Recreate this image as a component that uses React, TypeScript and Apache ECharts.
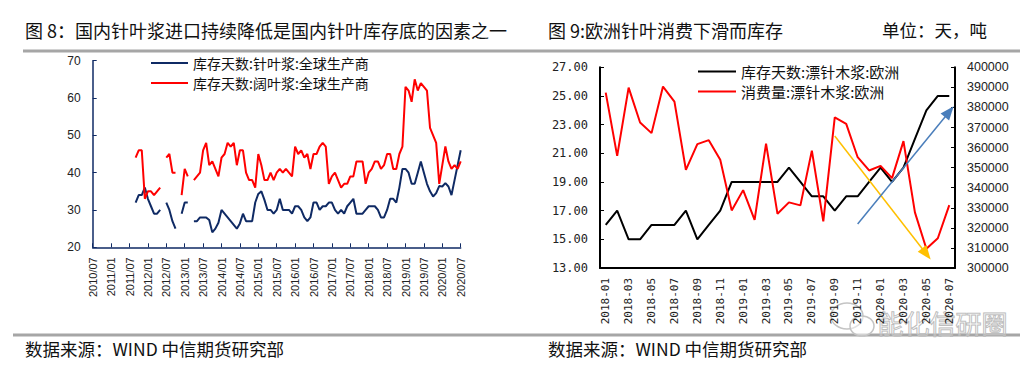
import React, { useEffect, useRef } from 'react';
import * as echarts from 'echarts';

// ---------- Left chart (图8) ----------
const leftMonths: string[] = [];
{
  let y = 2010;
  let m = 7;
  while (y < 2020 || (y === 2020 && m <= 7)) {
    leftMonths.push(`${y}/${String(m).padStart(2, '0')}`);
    m++;
    if (m > 12) { m = 1; y++; }
  }
}
const leftStart = '2011/09';
// 库存天数:针叶浆:全球生产商 (monthly from 2011/09, null = gap)
const softwoodDays: (number | null)[] = [
  32, 34, 34, 36, 33, 31, 29, 29, 30, null,
  32, 30, 27, 25, null,
  29, 32, 32, null,
  27, 27, 28, 28, 28, 27.3, 24, 25, 26.6, 30,
  29, 28, 27, 26, 25, 26.4, 29, 27, 27, 27,
  32, 34.3, 35, 32.7, 30, 30, 29, 30, 33, 30,
  30, 30, 29, 31, 31, 30, 28, 27, 28, 32,
  32, 30, 31, 31, 32, 32, 30, 29, 30, 29,
  31, 32, 33, 29, 29, 29, 30, 31, 31, 31,
  30, 28, 28, 30, 33, 33, 32, 36,
  41, 41, 40, 37, 37, 40, 43, 40, 37, 35,
  33.6, 34.5, 36.4, 36.3, 37.2, 36.3, 34, 38, 42, 46,
];
// 库存天数:阔叶浆:全球生产商
const hardwoodDays: (number | null)[] = [
  44, 46, 46, 33, 35, 35, 34, 35, 36, null,
  44, 45, 40, 40, null,
  34, 41, 39, null,
  38, 39, 40, 46, 48, 42, 43, 41, 39, 44,
  45, 48, 47, 48, 42, 46, 46, 40, 38, 38,
  36, 45, 42, 38, 38, 40, 38, 40, 41, 40,
  41, 40, 39, 47, 45, 46, 44, 45, 41, 45,
  45, 47, 48, 47, 37, 39, 40, 38, 36, 37,
  37, 39, 39, 43, 43, 43, 37, 40, 41, 43,
  43, 41, 42, 45, 45, 41, 41, 45, 47, 63,
  62, 59, 65, 62, 64, 63, 62, 52, 50, 48,
  37, 42, 47, 43, 41, 42, 41, 43,
];
const leftYTicks = { min: 20, max: 70, interval: 10 };

// ---------- Right chart (图9) ----------
const rightMonths: string[] = [];
{
  let y = 2018;
  let m = 1;
  while (y < 2020 || (y === 2020 && m <= 7)) {
    rightMonths.push(`${y}-${String(m).padStart(2, '0')}`);
    m++;
    if (m > 12) { m = 1; y++; }
  }
}
// 库存天数:漂针木浆:欧洲
const euInventoryDays = [
  16, 17, 15, 15, 16, 16, 16, 17, 15, 16,
  17, 19, 19, 19, 19, 19, 20, 19, 18, 18,
  17, 18, 18, 19, 20, 19, 20, 22, 24, 25,
  25,
];
// 消费量:漂针木浆:欧洲
const euConsumption = [
  387400, 355900, 389900, 372500, 367200, 390400, 382900, 348900, 361700, 363700,
  353900, 328700, 338800, 324000, 362000, 327000, 332700, 331200, 358500, 323200,
  375000, 371800, 355200, 348600, 350900, 344800, 363200, 327700, 309600, 314800,
  331300,
];
// Annotation arrows (data coordinates on the right-hand axis)
const yellowArrow = [['2019-09', 365800], ['2020-05', 307000]];
const blueArrow = [['2019-11', 321900], ['2020-07', 377900]];

const CJK = '"Noto Sans CJK SC", sans-serif';
const NAVY = '#0F2A64';

const pad = (start: string, arr: (number | null)[]) => {
  const s = leftMonths.indexOf(start);
  return leftMonths.map((_, i) => (i < s ? null : (arr[i - s] ?? null)));
};

export default function App() {
  const ref = useRef<HTMLDivElement>(null);
  useEffect(() => {
    if (!ref.current) return;
    const chart = echarts.init(ref.current, undefined, { renderer: 'svg' });
    const option: any = {
      animation: false,
      backgroundColor: '#ffffff',
      legend: [
        {
          orient: 'vertical',
          left: 151,
          top: 56,
          padding: 0,
          icon: 'rect',
          itemWidth: 37,
          itemHeight: 2,
          itemGap: 6,
          textStyle: { fontFamily: CJK, fontSize: 14, color: '#111' },
          data: ['库存天数:针叶浆:全球生产商', '库存天数:阔叶浆:全球生产商'],
        },
        {
          orient: 'vertical',
          left: 698,
          top: 64,
          padding: 0,
          icon: 'rect',
          itemWidth: 38,
          itemHeight: 2,
          itemGap: 5,
          textStyle: { fontFamily: CJK, fontSize: 15, color: '#111' },
          data: ['库存天数:漂针木浆:欧洲', '消费量:漂针木浆:欧洲'],
        },
      ],
      grid: [
        { left: 92.7, top: 60.7, width: 368, height: 186.6 },
        { left: 600, top: 67.3, width: 355, height: 200.7 },
      ],
      xAxis: [
        {
          type: 'category',
          gridIndex: 0,
          data: leftMonths,
          boundaryGap: false,
          axisLine: { lineStyle: { color: NAVY, width: 1.5 } },
          axisTick: { inside: true, interval: 5, length: 4, lineStyle: { color: NAVY } },
          axisLabel: {
            interval: 5, rotate: 90, fontSize: 11, color: '#222',
            fontFamily: '"Liberation Sans", Arial, sans-serif', margin: 10,
          },
          splitLine: { show: false },
        },
        {
          type: 'category',
          gridIndex: 1,
          data: rightMonths,
          boundaryGap: true,
          axisLine: { lineStyle: { color: '#000', width: 2 } },
          axisTick: { inside: false, interval: 1, length: 4, lineStyle: { color: '#000' } },
          axisLabel: {
            interval: 1, rotate: 90, fontSize: 11, color: '#222',
            fontFamily: '"DejaVu Sans Mono", monospace', margin: 10,
          },
          splitLine: { show: false },
        },
      ],
      yAxis: [
        {
          type: 'value',
          gridIndex: 0,
          min: leftYTicks.min,
          max: leftYTicks.max,
          interval: leftYTicks.interval,
          axisLine: { show: true, lineStyle: { color: NAVY, width: 1.5 } },
          axisTick: { show: true, inside: true, length: 4, lineStyle: { color: NAVY } },
          axisLabel: { fontSize: 12, color: '#222', fontFamily: '"Liberation Sans", Arial, sans-serif', margin: 12 },
          splitLine: { show: false },
        },
        {
          type: 'value',
          gridIndex: 1,
          min: 13,
          max: 27,
          interval: 2,
          axisLine: { show: true, lineStyle: { color: '#000', width: 2 } },
          axisTick: { show: true, inside: true, length: 4, lineStyle: { color: '#000' } },
          axisLabel: {
            fontSize: 12, color: '#222', fontFamily: '"DejaVu Sans Mono", monospace', margin: 12,
            formatter: (v: number) => v.toFixed(2),
          },
          splitLine: { show: false },
        },
        {
          type: 'value',
          gridIndex: 1,
          position: 'right',
          min: 300000,
          max: 400000,
          interval: 10000,
          axisLine: { show: true, lineStyle: { color: '#000', width: 2 } },
          axisTick: { show: true, inside: true, length: 4, lineStyle: { color: '#000' } },
          axisLabel: {
            fontSize: 12.5, color: '#222', fontFamily: '"Liberation Sans", Arial, sans-serif', margin: 12,
            formatter: (v: number) => String(v),
          },
          splitLine: { show: false },
        },
      ],
      series: [
        {
          name: '库存天数:针叶浆:全球生产商',
          type: 'line',
          xAxisIndex: 0,
          yAxisIndex: 0,
          data: pad(leftStart, softwoodDays),
          symbol: 'none',
          connectNulls: false,
          lineStyle: { color: NAVY, width: 2 },
          itemStyle: { color: NAVY },
        },
        {
          name: '库存天数:阔叶浆:全球生产商',
          type: 'line',
          xAxisIndex: 0,
          yAxisIndex: 0,
          data: pad(leftStart, hardwoodDays),
          symbol: 'none',
          connectNulls: false,
          lineStyle: { color: '#FF0000', width: 2 },
          itemStyle: { color: '#FF0000' },
        },
        {
          name: '库存天数:漂针木浆:欧洲',
          type: 'line',
          xAxisIndex: 1,
          yAxisIndex: 1,
          data: euInventoryDays,
          symbol: 'none',
          lineStyle: { color: '#000', width: 2 },
          itemStyle: { color: '#000' },
        },
        {
          name: '消费量:漂针木浆:欧洲',
          type: 'line',
          xAxisIndex: 1,
          yAxisIndex: 2,
          data: euConsumption,
          symbol: 'none',
          lineStyle: { color: '#FF0000', width: 2 },
          itemStyle: { color: '#FF0000' },
          markLine: {
            silent: true,
            symbol: ['none', 'triangle'],
            symbolSize: [11, 14],
            label: { show: false },
            emphasis: { disabled: true },
            data: [
              [
                { coord: yellowArrow[0], lineStyle: { color: '#FFC000', width: 1.5, type: 'solid' }, itemStyle: { color: '#FFC000' } },
                { coord: yellowArrow[1] },
              ],
              [
                { coord: blueArrow[0], lineStyle: { color: '#4A7EBB', width: 1.5, type: 'solid' }, itemStyle: { color: '#4A7EBB' } },
                { coord: blueArrow[1] },
              ],
            ],
          },
        },
      ],
      graphic: [
        {
          type: 'text', left: 25, top: 21,
          style: { text: '图 8：国内针叶浆进口持续降低是国内针叶库存底的因素之一', font: `18px ${CJK}`, fill: '#111' },
        },
        {
          type: 'text', left: 548, top: 21,
          style: { text: '图 9:欧洲针叶消费下滑而库存', font: `18px ${CJK}`, fill: '#111' },
        },
        {
          type: 'text', left: 882, top: 21,
          style: { text: '单位：天，吨', font: `17.5px ${CJK}`, fill: '#111' },
        },
        {
          type: 'line', shape: { x1: 23, y1: 51, x2: 1020, y2: 51 },
          style: { stroke: '#A6A6A6', lineWidth: 3 },
        },
        {
          type: 'line', shape: { x1: 13, y1: 335, x2: 1020, y2: 335 },
          style: { stroke: '#A6A6A6', lineWidth: 3 },
        },
        {
          type: 'text', left: 25, top: 340,
          style: { text: '数据来源：WIND 中信期货研究部', font: `17.5px ${CJK}`, fill: '#111' },
        },
        {
          type: 'text', left: 548, top: 340,
          style: { text: '数据来源：WIND 中信期货研究部', font: `17.5px ${CJK}`, fill: '#111' },
        },
        {
          type: 'ellipse', shape: { cx: 847, cy: 316, rx: 16, ry: 13 },
          style: { fill: 'rgba(255,255,255,0.5)', stroke: '#c4c4c4', lineWidth: 1.5 },
        },
        {
          type: 'ellipse', shape: { cx: 862, cy: 326, rx: 12, ry: 10 },
          style: { fill: 'rgba(255,255,255,0.5)', stroke: '#c4c4c4', lineWidth: 1.5 },
        },
        {
          type: 'text', left: 877, top: 309,
          style: { text: '能化信研圈', font: `26px ${CJK}`, fill: 'rgba(255,255,255,0.2)', stroke: '#b8b8b8', lineWidth: 1 },
        },
      ],
    };
    chart.setOption(option);
    return () => chart.dispose();
  }, []);
  return (
    <div
      ref={ref}
      style={{ position: 'absolute', left: 0, top: 0, width: 1035, height: 370 }}
    />
  );
}
